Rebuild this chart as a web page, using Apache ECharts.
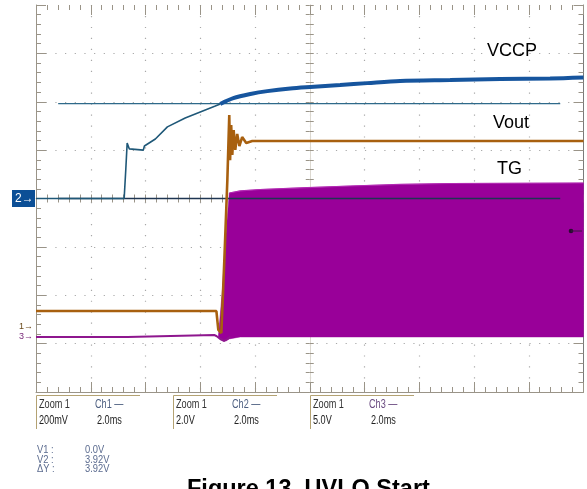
<!DOCTYPE html>
<html><head><meta charset="utf-8">
<script src="https://cdn.jsdelivr.net/npm/echarts@6/dist/echarts.min.js"></script>
<style>html,body{margin:0;padding:0;background:#fff}#c{width:587px;height:489px}</style>
</head><body><div id="c"></div>
<script>
// ---- data (time in ms, 2.0 ms/div, trigger at center) ----
// Ch2 VCCP (2.0 V/div)
const vccpTimeA  = [-10, -6.78, -6.72, -6.67, -6.59, -6.52, -6.08, -6.04, -5.64, -5.2, -4.55, -4.0, -3.45, -3.27];
const vccpVoltsA = [0, 0, 1.2, 2.29, 2.05, 2.0, 2.0, 2.17, 2.46, 2.96, 3.33, 3.58, 3.82, 3.91];
const vccpTimeB  = [-3.27, -2.79, -2.17, -1.55, -0.71, 0.02, 1.11, 2.1, 3.3, 5.13, 6.96, 8.78, 10];
const vccpVoltsB = [3.91, 4.15, 4.32, 4.44, 4.55, 4.61, 4.69, 4.77, 4.86, 4.90, 4.94, 4.96, 5.0];
// Ch1 Vout (200 mV/div)
const voutTime  = [-10, -3.41, -3.34, -3.23, -3.12, -3.01, -2.94, -2.91, -2.87, -2.83, -2.78, -2.72, -2.65, -2.57, -2.47, -2.32, -2.1, 10];
const voutVolts = [0.066, 0.066, -0.012, -0.025, 0.277, 0.608, 0.876, 0.69, 0.835, 0.711, 0.814, 0.732, 0.798, 0.748, 0.785, 0.761, 0.769, 0.769];
// Ch3 TG (5.0 V/div) before switching
const tgTime  = [-10, -6.66, -6.63, -3.49, -3.41, -3.27, -3.12, -3.01, -2.9];
const tgVolts = [-0.1, -0.1, 0.1, 0.1, 0, -0.31, -0.52, -0.31, -0.1];
// Ch3 TG switching envelope
const tgBandTime = [-3.34, -3.19, -3.05, -2.94, -2.54, -1.81, -0.35, 1.48, 3.3, 5.13, 10];
const tgBandHigh = [-0.1, 4.75, 10.96, 14.78, 14.99, 15.14, 15.3, 15.5, 15.66, 15.76, 15.81];
const tgBandLow  = [-0.1, -0.4, -0.5, -0.3, -0.1, -0.1, -0.1, -0.1, -0.1, -0.1, -0.1];
// cursors (on Ch2)
const cursorTime  = [-9.19, 9.15];
const cursorVolts = [0.0, 3.92];
// channel scales
const ch1VoltsPerDiv = 0.2, ch1GroundDiv = -2.656;
const ch2VoltsPerDiv = 2.0;
const ch3VoltsPerDiv = 5.0, ch3GroundDiv = -2.842;
// readouts
const infoBoxes = [
  {zoom: 'Zoom 1', ch: 'Ch1 \u2014', scale: '200mV', time: '2.0ms', chColor: '#4d5f80'},
  {zoom: 'Zoom 1', ch: 'Ch2 \u2014', scale: '2.0V', time: '2.0ms', chColor: '#4d5f80'},
  {zoom: 'Zoom 1', ch: 'Ch3 \u2014', scale: '5.0V', time: '2.0ms', chColor: '#6a4a80'}
];
const cursorLabels = ['V1 :', 'V2 :', '\u0394Y :'];
const cursorValues = ['0.0V', '3.92V', '3.92V'];
const traceNames = ['VCCP', 'Vout', 'TG'];
const titleText = 'Figure 13. UVLO Start';

const zip = (a, b) => a.map((v, i) => [v, b[i]]);

const GL = 36, GT = 5, GW = 547.5, GH = 387;
const grat = '#9a9488';
const dots = '#a8a8a8';

function borderX(pos, showLine) {
  return {
    type: 'value', min: -10, max: 10, interval: 2, position: pos,
    axisLine: {show: showLine, onZero: false, lineStyle: {color: grat, width: 1}},
    axisTick: {show: true, inside: true, length: 10, lineStyle: {color: grat}},
    minorTick: {show: true, splitNumber: 5, length: 5, lineStyle: {color: grat}},
    axisLabel: {show: false},
    splitLine: {show: pos === 'bottom', showMinLine: false, showMaxLine: false,
      lineStyle: {color: dots, width: 1.2, type: [1.2, 9.75]}}
  };
}
function borderY(pos, showLine) {
  return {
    type: 'value', min: -4 * ch2VoltsPerDiv, max: 4 * ch2VoltsPerDiv, interval: ch2VoltsPerDiv, position: pos,
    axisLine: {show: showLine, onZero: false, lineStyle: {color: pos === 'right' ? '#7a7a7a' : grat, width: 1}},
    axisTick: {show: true, inside: true, length: 10, lineStyle: {color: grat}},
    minorTick: {show: true, splitNumber: 5, length: 5, lineStyle: {color: grat}},
    axisLabel: {show: false},
    splitLine: {show: pos === 'left', showMinLine: false, showMaxLine: false,
      lineStyle: {color: dots, width: 1.2, type: [1.2, 8.475]}}
  };
}
function centerX(inside) {
  return {
    type: 'value', min: -10, max: 10, interval: 2, position: 'bottom',
    axisLine: {show: true, onZero: true, onZeroAxisIndex: 0, lineStyle: {color: '#dcd8d0', width: 1}},
    axisTick: {show: true, inside: inside, length: 4, lineStyle: {color: grat}},
    minorTick: {show: true, splitNumber: 5, length: 4, lineStyle: {color: grat}},
    axisLabel: {show: false}, splitLine: {show: false}
  };
}
function centerY(inside) {
  return {
    type: 'value', min: -8, max: 8, interval: 2, position: 'left',
    axisLine: {show: true, onZero: true, onZeroAxisIndex: 0, lineStyle: {color: '#dcd8d0', width: 1}},
    axisTick: {show: true, inside: inside, length: 4, lineStyle: {color: grat}},
    minorTick: {show: true, splitNumber: 5, length: 4, lineStyle: {color: grat}},
    axisLabel: {show: false}, splitLine: {show: false}
  };
}
function hiddenY(vpd, groundDiv) {
  return {type: 'value', show: false, min: (-4 - groundDiv) * vpd, max: (4 - groundDiv) * vpd,
    splitLine: {show: false}, axisLine: {onZero: false}};
}

// envelope polygon for the TG switching band, through the series' own coordinate system
function renderBand(params, api) {
  if (params.dataIndex !== 0) return null;
  const top = tgBandTime.map((t, i) => api.coord([t, tgBandHigh[i]]));
  const bot = tgBandTime.map((t, i) => api.coord([t, tgBandLow[i]])).reverse();
  return {
    type: 'group',
    children: [
      {type: 'polygon', shape: {points: top.concat(bot)}, style: {fill: '#990099', stroke: '#990099', lineWidth: 0.5}},
      {type: 'polyline', shape: {points: top.slice(3)}, style: {stroke: '#b32ab3', lineWidth: 1.2, fill: null}}
    ]
  };
}

const series = [
  {type: 'custom', name: 'TG', xAxisIndex: 0, yAxisIndex: 5, renderItem: renderBand,
    data: tgBandTime.map((t, i) => [t, tgBandHigh[i], tgBandLow[i]]), encode: {x: 0, y: [1, 2]}, z: 2, clip: true},
  {type: 'line', name: 'TG line', xAxisIndex: 0, yAxisIndex: 5, data: zip(tgTime, tgVolts), symbol: 'none',
    lineStyle: {width: 2, color: '#8e168e'}, z: 3},
  {type: 'line', name: 'cursor1', xAxisIndex: 0, yAxisIndex: 0, data: cursorTime.map(t => [t, cursorVolts[0]]),
    symbol: 'none', lineStyle: {width: 1.3, color: '#1e3552'}, z: 4},
  {type: 'line', name: 'cursor2', xAxisIndex: 0, yAxisIndex: 0, data: cursorTime.map(t => [t, cursorVolts[1]]),
    symbol: 'none', lineStyle: {width: 1.3, color: '#2e6a8a'}, z: 4},
  {type: 'line', name: 'Vout', xAxisIndex: 0, yAxisIndex: 4, data: zip(voutTime, voutVolts), symbol: 'none',
    lineStyle: {width: 2.6, color: '#a8600f'}, z: 5},
  {type: 'line', name: 'VCCP a', xAxisIndex: 0, yAxisIndex: 0, data: zip(vccpTimeA, vccpVoltsA), symbol: 'none',
    lineStyle: {width: 1.6, color: '#1f5878'}, z: 6},
  {type: 'line', name: 'VCCP', xAxisIndex: 0, yAxisIndex: 0, data: zip(vccpTimeB, vccpVoltsB), symbol: 'none',
    smooth: 0.3, lineStyle: {width: 4, color: '#16559e'}, z: 6}
];

const txtFont = '"Liberation Sans",Arial,sans-serif';
const graphic = [];
// channel markers
graphic.push({type: 'rect', shape: {x: 12, y: 190, width: 23, height: 17}, style: {fill: '#0c4f96'}, z: 10});
graphic.push({type: 'text', x: 15, y: 199, style: {text: '2\u2192', fill: '#fff', font: '12px ' + txtFont, verticalAlign: 'middle'}, z: 11});
graphic.push({type: 'text', x: 19, y: 327, style: {text: '1\u2192', fill: '#6b4a1c', font: '9px ' + txtFont, verticalAlign: 'middle'}, z: 11});
graphic.push({type: 'text', x: 19, y: 337, style: {text: '3\u2192', fill: '#7a2a7a', font: '9px ' + txtFont, verticalAlign: 'middle'}, z: 11});
// trigger arrow on the right
graphic.push({type: 'circle', shape: {cx: 571, cy: 231, r: 2.3}, style: {fill: '#2a0a30'}, z: 11});
graphic.push({type: 'line', shape: {x1: 571, y1: 231, x2: 582, y2: 231}, style: {stroke: '#3a1a40', lineWidth: 1}, z: 11});
// trace names
const namePos = [[487, 51], [493, 123.5], [497, 169.5]];
traceNames.forEach((n, i) => graphic.push({type: 'text', x: namePos[i][0], y: namePos[i][1],
  style: {text: n, fill: '#000', font: '18px "Liberation Sans",Arial,sans-serif', verticalAlign: 'middle'}, z: 11}));
// info boxes (narrow scope font)
const boxX = [36, 173, 310];
const narrow = (x, y, text, fill) => ({type: 'text', x: x, y: y, scaleX: 0.76,
  style: {text: text, fill: fill, font: '12px ' + txtFont, verticalAlign: 'middle'}});
infoBoxes.forEach((b, i) => {
  const x = boxX[i];
  graphic.push({type: 'polyline', shape: {points: [[x + 104, 395.5], [x + 0.5, 395.5], [x + 0.5, 429]]},
    style: {stroke: '#b4a272', lineWidth: 1, fill: null}, z: 10});
  graphic.push(narrow(x + 3, 405, b.zoom, '#333'));
  graphic.push(narrow(x + 59, 405, b.ch, b.chColor));
  graphic.push(narrow(x + 3, 420.5, b.scale, '#222'));
  graphic.push(narrow(x + 61, 420.5, b.time, '#222'));
});
cursorLabels.forEach((l, i) => {
  const y = 450 + i * 9.7;
  graphic.push({type: 'text', x: 37, y: y, scaleX: 0.85, style: {text: l, fill: '#5b6b8f', font: '11px ' + txtFont, verticalAlign: 'middle'}});
  graphic.push({type: 'text', x: 85, y: y, scaleX: 0.85, style: {text: cursorValues[i], fill: '#5b6b8f', font: '11px ' + txtFont, verticalAlign: 'middle'}});
});
graphic.push({type: 'text', x: 187, y: 478, style: {text: titleText, fill: '#000',
  font: 'bold 23.5px "Liberation Sans",Arial,sans-serif', verticalAlign: 'top'}});

const chart = echarts.init(document.getElementById('c'), null, {renderer: 'canvas'});
chart.setOption({
  animation: false,
  backgroundColor: '#fff',
  grid: {left: GL, top: GT, width: GW, height: GH, containLabel: false},
  xAxis: [borderX('bottom', true), borderX('top', false), centerX(true), centerX(false)],
  yAxis: [borderY('left', true), borderY('right', true), centerY(true), centerY(false),
    hiddenY(ch1VoltsPerDiv, ch1GroundDiv), hiddenY(ch3VoltsPerDiv, ch3GroundDiv)],
  series: series,
  graphic: graphic
});
</script></body></html>
